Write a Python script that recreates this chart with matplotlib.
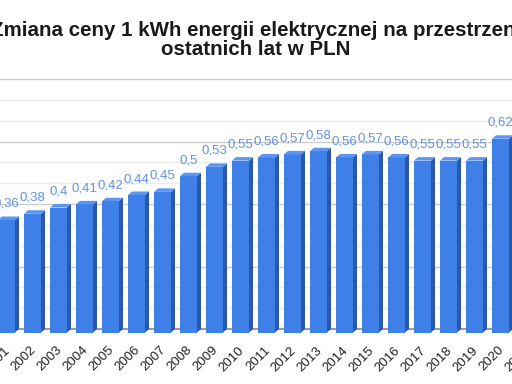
import matplotlib
matplotlib.use('Agg')
import matplotlib.pyplot as plt
from matplotlib.patches import Polygon
from matplotlib.transforms import ScaledTranslation

# ---- data ----
years = [str(y) for y in range(2001, 2022)]
prices = [0.36, 0.38, 0.4, 0.41, 0.42, 0.44, 0.45, 0.5, 0.53, 0.55,
          0.56, 0.57, 0.58, 0.56, 0.57, 0.56, 0.55, 0.55, 0.55, 0.62]
title_line1 = "Zmiana ceny 1 kWh energii elektrycznej na przestrzeni"
title_line2 = "ostatnich lat w PLN"
major_grid = [0.0, 0.2, 0.4, 0.6, 0.8]
minor_grid = [0.0667, 0.1333, 0.2667, 0.3333, 0.4667, 0.5333, 0.6667, 0.7333]

plt.rcParams['font.family'] = ['Liberation Sans', 'DejaVu Sans']

W, H, DPI = 512, 384, 100
fig = plt.figure(figsize=(W / DPI, H / DPI), dpi=DPI)
fig.patch.set_facecolor('white')

# geometry (pixels)
pitch = 26.0
x0_px = 6.5
ppu = 312.5
zero_px = 332.5
ax_left_px, ax_right_px = -60, 580
ymax = 0.82
ax = fig.add_axes([ax_left_px / W, (H - zero_px) / H,
                   (ax_right_px - ax_left_px) / W, ymax * ppu / H])
xmin, xmax = (ax_left_px - x0_px) / pitch, (ax_right_px - x0_px) / pitch
ax.set_xlim(xmin, xmax)
ax.set_ylim(0, ymax)
ax.set_facecolor('none')
for s in ax.spines.values():
    s.set_visible(False)
ax.set_yticks([])

dxd = 4.0 / pitch
dyd = 3.5 / ppu
bw = 17.0 / pitch

# back-wall gridlines
for g in minor_grid:
    ax.plot([xmin, xmax], [g + dyd] * 2, color='#ebebeb', lw=1, zorder=0)
for g in major_grid[1:]:
    ax.plot([xmin, xmax], [g + dyd] * 2, color='#cccccc', lw=1, zorder=0)
ax.plot([xmin, xmax], [dyd, dyd], color='#9e9e9e', lw=1.6, zorder=1)

front_c, side_c, top_c = '#3f7fe8', '#2b58ad', '#5b95f2'
xs = list(range(len(prices)))
ax.bar(xs, prices, width=bw, color=front_c, lw=0, zorder=3)
for xi, v in zip(xs, prices):
    left, right = xi - bw / 2, xi + bw / 2
    ax.add_patch(Polygon([(right, 0), (right, v), (right + dxd, v + dyd), (right + dxd, dyd)],
                         closed=True, facecolor=side_c, lw=0, zorder=3))
    ax.add_patch(Polygon([(left, v), (right, v), (right + dxd, v + dyd), (left + dxd, v + dyd)],
                         closed=True, facecolor=top_c, lw=0, zorder=3))
    ax.annotate(str(v).replace('.', ','), (xi, v), xytext=(0, 13), textcoords='offset pixels',
                ha='center', va='baseline', fontsize=9.5, color='#5f92e8', zorder=4,
                annotation_clip=False)

ax.set_xticks(list(range(len(years))))
ax.set_xticklabels(years, rotation=45, ha='right', va='center', rotation_mode='anchor',
                   fontsize=9.5, color='#222222')
ax.tick_params(axis='x', length=0, pad=11.5)
for lab in ax.get_xticklabels():
    lab.set_transform(lab.get_transform() + ScaledTranslation(0.02, 0, fig.dpi_scale_trans))

fig.text(0.5, 1 - 36.5 / H, title_line1, ha='center', va='baseline', fontsize=14.8,
         fontweight='bold', color='#1a1a1a')
fig.text(0.5, 1 - 55 / H, title_line2, ha='center', va='baseline', fontsize=14.8,
         fontweight='bold', color='#1a1a1a')

fig.savefig('out.png', dpi=DPI)
